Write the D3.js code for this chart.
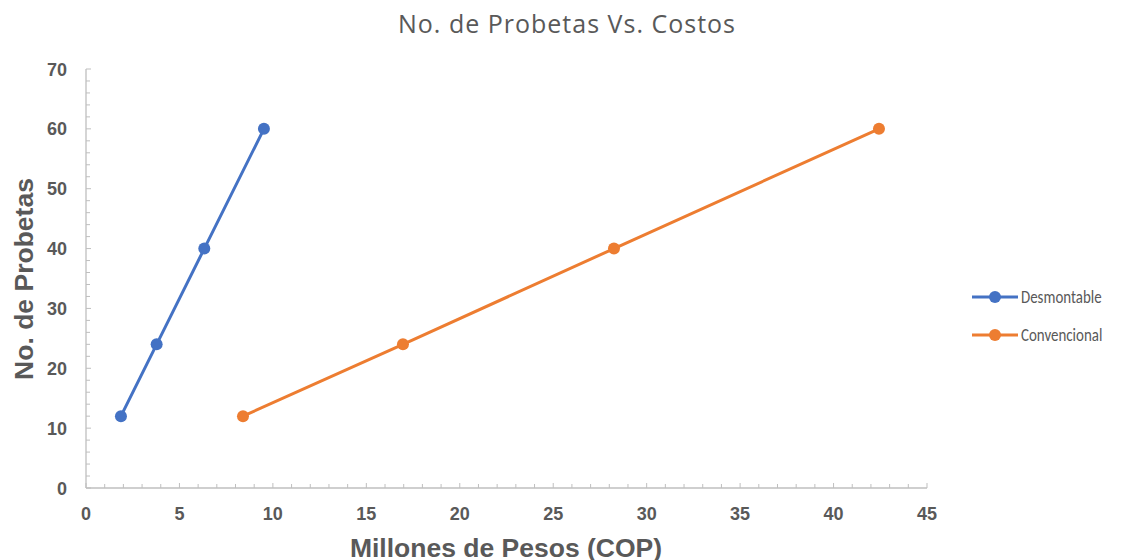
<!DOCTYPE html>
<html>
<head>
<meta charset="utf-8">
<script src="https://cdn.jsdelivr.net/npm/d3@7"></script>
<style>
  body { margin: 0; background: #fff; }
  svg { display: block; }
</style>
</head>
<body>
<svg id="chart" width="1136" height="560"></svg>
<script>
var seriesNames = ["Desmontable", "Convencional"];
var seriesColors = ["#4472C4", "#ED7D31"];
var probetas = [12, 24, 40, 60];
var costDesmontable = [1.87, 3.78, 6.33, 9.52];
var costConvencional = [8.4, 16.96, 28.25, 42.43];
var xTicks = [0, 5, 10, 15, 20, 25, 30, 35, 40, 45];
var yTicks = [0, 10, 20, 30, 40, 50, 60, 70];

var svg = d3.select("#chart");

var x = d3.scaleLinear().domain([0, 45]).range([86, 927]);
var y = d3.scaleLinear().domain([0, 70]).range([488, 69]);

var axisColor = "#BFBFBF";
var textColor = "#595959";

// minor ticks
var xMinor = d3.range(0, 46, 1);
var yMinor = d3.range(0, 71, 2);

svg.append("g").selectAll("line")
  .data(xMinor)
  .enter().append("line")
  .attr("x1", function(d){ return x(d); })
  .attr("x2", function(d){ return x(d); })
  .attr("y1", y(0))
  .attr("y2", function(d){ return y(0) - (d % 5 == 0 ? 5 : 4); })
  .attr("stroke", axisColor).attr("stroke-width", 1);

svg.append("g").selectAll("line")
  .data(yMinor)
  .enter().append("line")
  .attr("x1", x(0))
  .attr("x2", function(d){ return x(0) + (d % 10 == 0 ? 5 : 4); })
  .attr("y1", function(d){ return y(d); })
  .attr("y2", function(d){ return y(d); })
  .attr("stroke", axisColor).attr("stroke-width", 1);

// axis lines
svg.append("line")
  .attr("x1", x(0)).attr("x2", x(45))
  .attr("y1", y(0)).attr("y2", y(0))
  .attr("stroke", axisColor).attr("stroke-width", 1.3);
svg.append("line")
  .attr("x1", x(0)).attr("x2", x(0))
  .attr("y1", y(0)).attr("y2", y(70))
  .attr("stroke", axisColor).attr("stroke-width", 1.3);

// tick labels
svg.append("g").selectAll("text")
  .data(xTicks)
  .enter().append("text")
  .attr("x", function(d){ return x(d); })
  .attr("y", 520)
  .attr("text-anchor", "middle")
  .attr("font-family", "Liberation Sans, Arial, sans-serif")
  .attr("font-weight", "bold")
  .attr("font-size", 18)
  .attr("fill", textColor)
  .text(function(d){ return d; });

svg.append("g").selectAll("text")
  .data(yTicks)
  .enter().append("text")
  .attr("x", 67)
  .attr("y", function(d){ return y(d) + 6.5; })
  .attr("text-anchor", "end")
  .attr("font-family", "Liberation Sans, Arial, sans-serif")
  .attr("font-weight", "bold")
  .attr("font-size", 18)
  .attr("fill", textColor)
  .text(function(d){ return d; });

// titles
svg.append("text")
  .attr("x", 567).attr("y", 33)
  .attr("text-anchor", "middle")
  .attr("font-family", "Open Sans, sans-serif")
  .attr("font-size", 25)
  .attr("letter-spacing", 1)
  .attr("fill", textColor)
  .text("No. de Probetas Vs. Costos");

svg.append("text")
  .attr("x", 506).attr("y", 556.5)
  .attr("text-anchor", "middle")
  .attr("font-family", "Liberation Sans, Arial, sans-serif")
  .attr("font-weight", "bold")
  .attr("font-size", 26.5)
  .attr("fill", textColor)
  .text("Millones de Pesos (COP)");

svg.append("text")
  .attr("transform", "translate(33,279) rotate(-90)")
  .attr("text-anchor", "middle")
  .attr("font-family", "Liberation Sans, Arial, sans-serif")
  .attr("font-weight", "bold")
  .attr("font-size", 26.5)
  .attr("fill", textColor)
  .text("No. de Probetas");

// series
var series = [costDesmontable, costConvencional].map(function(costs, i){
  return {
    name: seriesNames[i],
    color: seriesColors[i],
    points: costs.map(function(c, j){ return [c, probetas[j]]; })
  };
});

var line = d3.line()
  .x(function(d){ return x(d[0]); })
  .y(function(d){ return y(d[1]); });

series.forEach(function(s){
  svg.append("path")
    .attr("d", line(s.points))
    .attr("fill", "none")
    .attr("stroke", s.color)
    .attr("stroke-width", 3);
  svg.append("g").selectAll("circle")
    .data(s.points)
    .enter().append("circle")
    .attr("cx", function(d){ return x(d[0]); })
    .attr("cy", function(d){ return y(d[1]); })
    .attr("r", 6)
    .attr("fill", s.color);
});

// legend
var legend = svg.append("g").selectAll("g")
  .data(series)
  .enter().append("g")
  .attr("transform", function(d, i){ return "translate(972," + (297 + i * 38) + ")"; });

legend.append("line")
  .attr("x1", 0).attr("x2", 46)
  .attr("stroke", function(d){ return d.color; })
  .attr("stroke-width", 3);
legend.append("circle")
  .attr("cx", 23).attr("r", 6)
  .attr("fill", function(d){ return d.color; });
legend.append("text")
  .attr("transform", "translate(49,6) scale(0.83,1)")
  .attr("font-family", "Carlito, Open Sans, sans-serif")
  .attr("font-size", 18)
  .attr("fill", textColor)
  .text(function(d){ return d.name; });
</script>
</body>
</html>
